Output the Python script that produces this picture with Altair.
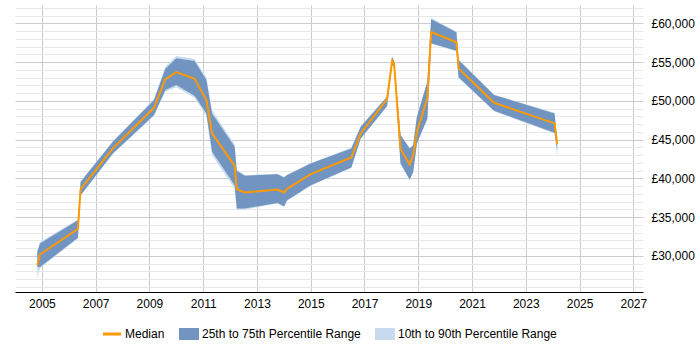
import altair as alt
import pandas as pd

# Sample dates (decimal years) and salary percentiles
years = [2004.83, 2004.93, 2006.34, 2006.44, 2007.64, 2009.17, 2009.59, 2010.00,
         2010.68, 2011.12, 2011.33, 2012.17, 2012.25, 2012.55, 2013.76, 2014.01,
         2014.12, 2015.00, 2016.51, 2016.86, 2017.84, 2018.03, 2018.10, 2018.34,
         2018.68, 2018.81, 2018.95, 2019.34, 2019.48, 2020.42, 2020.50, 2021.82,
         2024.07, 2024.17]
median = [28800, 30180, 33490, 38610, 43870, 49100, 52770, 53710,
          52850, 50100, 45800, 41620, 38610, 38185, 38570, 38185,
          38650, 40550, 42700, 45800, 50230, 55200, 54840, 43800,
          41810, 43000, 46010, 50360, 58880, 57550, 54190, 49750,
          47090, 44420]
p25 = [28580, 28580, 32330, 37840, 43220, 48160, 51390, 52040,
       50650, 48380, 43430, 39130, 36120, 36120, 36840, 36420,
       37190, 39130, 41410, 45160, 49330, 54620, 54400, 41930,
       39860, 40840, 44510, 47740, 57420, 56460, 53030, 48720,
       45880, 43650]
p75 = [30520, 31600, 34610, 39550, 44720, 50100, 54100, 55480,
       55130, 52680, 48380, 44070, 40970, 40330, 40550, 40120,
       40420, 41930, 43865, 46650, 50530, 55610, 55170, 45580,
       43865, 44290, 47940, 52460, 60520, 58840, 55260, 50750,
       48380, 44940]
p10 = [27120, 28400, 32250, 37750, 43150, 48050, 51200, 51750,
       50400, 48050, 43000, 38700, 35950, 36000, 36750, 36300,
       37100, 39050, 41350, 45100, 49250, 54550, 54350, 41850,
       39750, 40750, 44450, 47650, 57350, 56400, 52950, 48650,
       45800, 42780]
p90 = [30700, 31800, 34700, 39650, 44800, 50200, 54400, 55780,
       55400, 53000, 48800, 44400, 41100, 40400, 40600, 40200,
       40500, 42000, 43950, 46750, 50600, 55700, 55250, 45650,
       43950, 44350, 48000, 52550, 60700, 58900, 55320, 50800,
       48450, 45000]

series_names = ["Median", "25th to 75th Percentile Range", "10th to 90th Percentile Range"]
series_colors = ["#ff9900", "#7195c0", "#c8daed"]
year_ticks = list(range(2005, 2028, 2))
salary_ticks = list(range(26000, 62001, 1000))

df = pd.DataFrame({"year": years, "median": median, "p10": p10,
                   "p25": p25, "p75": p75, "p90": p90})

FONT = "Liberation Sans"

x_enc = alt.X(
    "year:Q",
    scale=alt.Scale(domain=[2004.0, 2027.36], nice=False, zero=False),
    axis=alt.Axis(
        values=year_ticks, format="d", title=None, ticks=False,
        labelPadding=6, labelFont=FONT, labelFontSize=12, labelColor="#000000",
        domainColor="#000000", domainWidth=1, gridColor="#cccccc",
        labelOverlap=False,
    ),
)

y_scale = alt.Scale(domain=[25350, 62360], nice=False, zero=False)
y_axis = alt.Axis(
    orient="right", values=salary_ticks, title=None, ticks=False, domain=False,
    labelPadding=8, labelFont=FONT, labelFontSize=12, labelColor="#000000",
    labelOverlap=False,
    labelExpr="datum.value % 5000 === 0 ? '£' + format(datum.value, ',') : ''",
    gridColor={"condition": {"test": "datum.value % 5000 === 0", "value": "#cccccc"},
               "value": "#e8e8e8"},
)

# Median shows as a short stroke, the ranges as flat swatches
legend = alt.Legend(
    title=None, orient="none", direction="horizontal",
    legendX=91, legendY=323,
    labelFont=FONT, labelFontSize=12, labelColor="#000000",
    symbolSize=400, labelOffset=7, columnPadding=14, symbolOpacity=1,
    symbolType={"expr": "datum.value === 'Median' ? 'M-0.9,0H0.9' : 'M-1,-0.6H1V0.6H-1Z'"},
    symbolStrokeWidth={"expr": "datum.value === 'Median' ? 3 : 0"},
    symbolStrokeColor={"expr": "scale('color', datum.value)"},
    symbolFillColor={"expr": "datum.value === 'Median' ? 'transparent' : scale('color', datum.value)"},
)

color_enc = alt.Color(
    "series:N",
    scale=alt.Scale(domain=series_names, range=series_colors),
    legend=legend,
)

base = alt.Chart(df)

outer = base.mark_area(opacity=1).encode(
    x=x_enc,
    y=alt.Y("p10:Q", scale=y_scale, axis=y_axis),
    y2="p90:Q",
    color=color_enc,
).transform_calculate(series="'10th to 90th Percentile Range'")

inner = base.mark_area(opacity=1).encode(
    x=x_enc,
    y=alt.Y("p25:Q", scale=y_scale, axis=y_axis),
    y2="p75:Q",
    color=color_enc,
).transform_calculate(series="'25th to 75th Percentile Range'")

line = base.mark_line(strokeWidth=2).encode(
    x=x_enc,
    y=alt.Y("median:Q", scale=y_scale, axis=y_axis),
    color=color_enc,
).transform_calculate(series="'Median'")

chart = alt.layer(outer, inner, line).properties(
    width=628, height=287,
    autosize=alt.AutoSizeParams(type="none"),
    padding={"left": 15, "top": 5, "right": 57, "bottom": 58},
    background="#ffffff",
).configure_view(stroke=None)

chart.save("out.html", embed_options={"renderer": "svg", "actions": False})
